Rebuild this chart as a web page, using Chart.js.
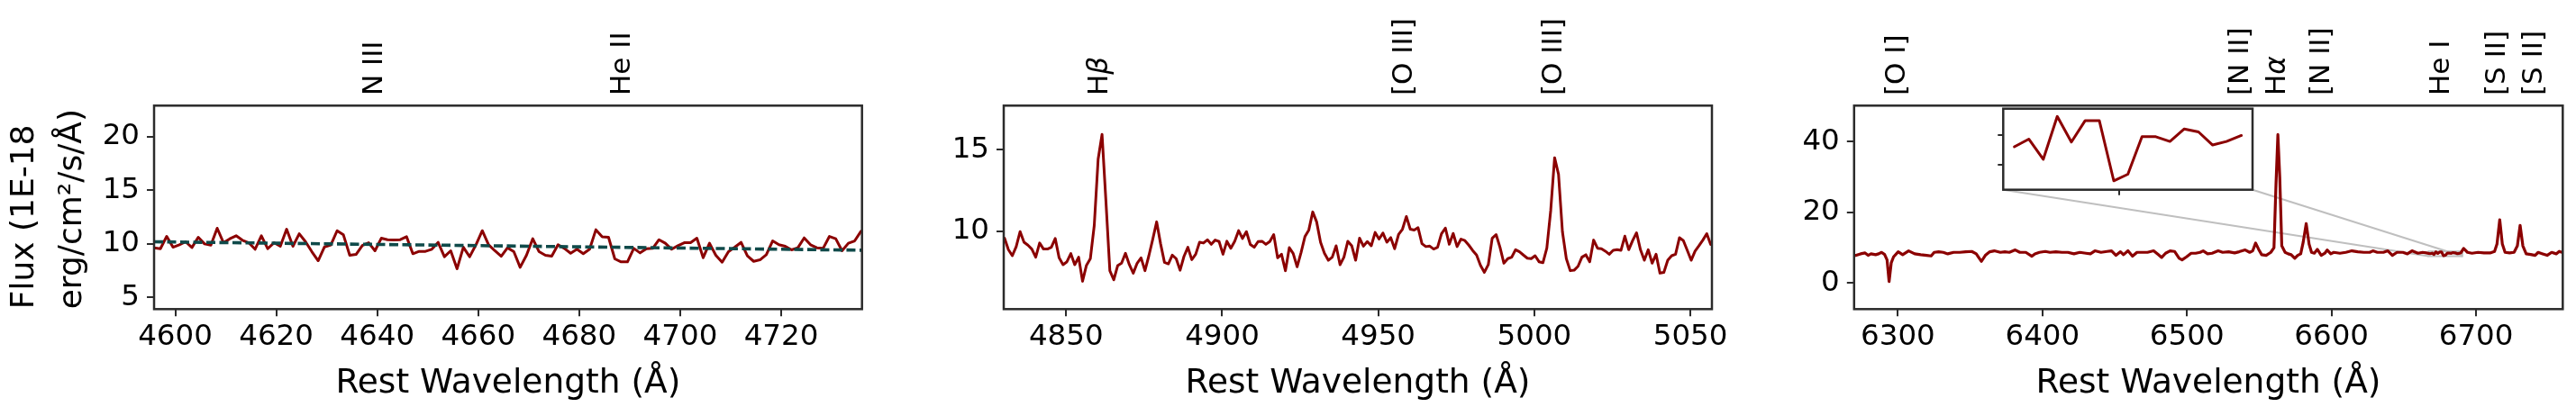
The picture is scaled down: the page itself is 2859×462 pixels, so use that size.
<!DOCTYPE html>
<html lang="en">
<head>
<meta charset="UTF-8">
<title>Rest-frame spectrum</title>
<script src="https://cdn.jsdelivr.net/npm/chart.js"></script>
<style>
  html, body { margin: 0; padding: 0; background: #fff; }
  body { width: 2859px; height: 462px; position: relative; overflow: hidden; }
  canvas { position: absolute; }
</style>
</head>
<body>
<canvas id="c1" width="1000" height="462" style="left:0;top:0"></canvas>
<canvas id="c2" width="950" height="462" style="left:1000px;top:0"></canvas>
<canvas id="c3" width="909" height="462" style="left:1950px;top:0"></canvas>
<canvas id="c4" width="320" height="125" style="left:2200px;top:100px"></canvas>

<script>
// ---- panel 1: N III / He II region (regular 1.25 A sampling) ----
const wave1Start = 4595.8;
const waveStep1 = 1.25;
const flux1 = [
  9.63, 9.54, 10.69, 9.68, 9.91, 10.19, 9.65, 10.61, 9.99, 9.88,
  11.45, 10.10, 10.47, 10.75, 10.33, 10.10, 9.49, 10.75, 9.54, 10.10,
  9.77, 11.36, 9.77, 10.94, 10.19, 9.26, 8.42, 9.71, 9.88, 11.22,
  10.83, 8.93, 9.01, 9.85, 10.10, 9.35, 10.52, 10.38, 10.36, 10.38,
  10.66, 9.07, 9.29, 9.29, 9.49, 10.13, 8.79, 9.35, 7.66, 9.68,
  8.79, 9.91, 11.22, 9.91, 9.35, 8.84, 9.63, 9.26,
  7.80, 8.93, 10.47, 9.26, 8.93, 8.84, 9.91, 9.57, 9.12, 9.49,
  9.07, 9.49, 11.31, 10.66, 10.61, 8.59, 8.31, 8.31, 9.57, 9.15,
  9.54, 9.57, 10.38, 10.05, 9.49, 9.82, 10.10, 10.10, 10.52, 8.70,
  10.05, 8.93, 8.28, 9.26, 9.68, 10.13, 8.87, 8.36, 8.50, 8.98,
  10.27, 9.91, 9.77, 9.43, 9.63, 10.55, 9.91, 9.63, 9.57, 10.69,
  10.47, 9.35, 10.05, 10.27, 11.17
];
const contWave1 = [4595.8, 4736.0];
const contFlux1 = [10.19, 9.40];
const xRange1 = [4595.8, 4736.0];
const yRange1 = [3.9, 22.9];
const xTicks1 = [4600, 4620, 4640, 4660, 4680, 4700, 4720];
const yTicks1 = [5, 10, 15, 20];
const lineNames1 = ['N III', 'He II'];
const lineWaves1 = [4639.5, 4688.5];

// ---- panel 2: Hbeta / [O III] region ----
const wave2Start = 4830.25;
const waveStep2 = 1.25;
const flux2 = [
  9.56, 8.85, 8.48, 9.04, 9.96, 9.31, 9.13, 8.89, 8.39, 9.26,
  8.89, 8.89, 9.00, 9.54, 8.35, 7.93, 8.11, 8.61, 7.93, 8.39,
  6.91, 7.89, 8.30, 10.33, 14.41, 15.93, 11.81, 7.56, 7.00, 7.87,
  8.02, 8.63, 7.93, 7.41, 8.02, 8.35, 7.56, 8.48, 9.50, 10.56,
  9.22, 8.07, 7.98, 8.52, 8.30, 7.59, 8.44, 9.00, 8.24, 8.57,
  9.31, 9.26, 9.46, 9.18, 9.44, 9.35, 8.57, 9.37, 8.94, 9.37,
  10.02, 9.54, 9.96, 9.17, 9.00, 9.35, 9.37, 9.18, 9.35, 9.78,
  8.35, 8.57, 7.56, 8.98, 8.61, 7.80, 8.67, 9.65, 10.06, 11.17,
  10.56, 9.31, 8.63, 8.20, 8.39, 9.09, 7.93, 8.39, 9.37, 9.09,
  8.20, 9.56, 9.07,
  9.35, 9.09, 9.91, 9.50, 9.87, 9.31, 9.59, 8.91, 9.78, 10.11,
  10.89, 10.11, 10.06, 10.20, 9.22, 9.04, 9.07, 8.89, 9.00, 9.83,
  10.18, 9.18, 9.85, 9.04, 9.50, 9.41, 9.13, 8.80, 8.52, 7.89,
  7.46, 7.93, 9.55, 9.78, 9.00, 8.02, 8.30, 8.39, 8.85, 8.72,
  8.52, 8.33, 8.30, 8.48, 8.11, 8.05, 8.94, 11.26, 14.50, 13.48,
  9.96, 8.30, 7.56, 7.59, 7.83, 8.39, 8.54, 8.11, 9.44, 8.94,
  8.91, 8.76, 8.57, 8.81, 8.85, 8.81, 9.68, 8.85, 9.41, 9.89,
  8.85, 8.20, 8.85, 8.02, 8.57, 7.41, 7.46, 8.20, 8.48, 8.57,
  9.59, 9.41, 8.81, 8.20, 8.76, 9.09, 9.44, 9.83, 9.17
];
const xRange2 = [4830.0, 5056.9];
const yRange2 = [5.2, 17.7];
const xTicks2 = [4850, 4900, 4950, 5000, 5050];
const yTicks2 = [10, 15];
const lineNames2 = ['H\u03b2', '[O III]', '[O III]'];
const lineWaves2 = [4861, 4958.5, 5006.5];

// ---- panel 3: [O I] to [S II] region ----
const wave3 = [
  6267.9, 6271.1, 6274.2, 6277.3, 6279.4, 6281.4, 6284.6, 6286.7, 6288.7, 6290.8,
  6292.5, 6293.9, 6295.4, 6297.0, 6300.2, 6303.3, 6307.4, 6311.6, 6315.8, 6319.9,
  6323.0, 6325.1, 6328.2, 6331.4, 6334.5, 6338.6, 6342.8, 6346.9, 6351.1, 6354.2,
  6356.3, 6357.8, 6360.5, 6363.6, 6366.7, 6370.9, 6374.0, 6377.1, 6381.2, 6384.4,
  6388.5, 6392.7, 6394.8, 6397.9, 6402.0, 6405.2, 6409.3, 6413.5, 6417.6, 6421.8,
  6425.9, 6430.1, 6433.2, 6436.3, 6440.5, 6444.7, 6447.8, 6450.9, 6454.0, 6456.1,
  6459.2, 6462.3, 6465.4, 6468.6, 6472.7, 6476.9, 6480.0, 6482.5, 6485.2, 6488.3,
  6491.4, 6494.6, 6496.6, 6499.7, 6502.9, 6506.0, 6509.1, 6511.2, 6514.3, 6517.4,
  6521.6, 6524.7, 6528.8, 6533.0, 6536.1, 6540.3, 6543.4, 6545.5, 6547.5, 6549.6,
  6551.7, 6554.8, 6558.0, 6560.2, 6561.6, 6562.9, 6564.2, 6565.6, 6567.9, 6570.0,
  6572.1, 6574.6, 6576.6, 6578.7, 6580.4, 6582.5, 6584.5, 6586.2, 6588.1, 6590.2,
  6592.9, 6595.4, 6597.0, 6599.5, 6601.6, 6605.8, 6609.9, 6614.1, 6618.2, 6622.4,
  6626.5, 6628.6, 6631.7, 6635.9, 6639.0, 6642.1, 6645.3, 6649.4, 6652.5, 6655.7,
  6659.8, 6663.0, 6665.6,
  6668.24, 6669.59, 6670.94, 6672.25, 6673.57, 6674.86, 6676.18, 6677.53, 6678.85, 6680.17,
  6681.46, 6682.78, 6684.12, 6685.45, 6686.77, 6688.06, 6689.46,
  6691.4, 6694.1, 6697.2, 6701.4, 6705.5, 6709.7, 6712.8, 6714.5, 6716.4, 6718.2,
  6720.1, 6723.2, 6726.3, 6728.6, 6730.5, 6732.4, 6734.7, 6737.8, 6740.9, 6743.0,
  6746.1, 6749.2, 6752.3, 6755.5, 6757.5, 6760.0
];
const flux3 = [
  7.82, 7.82, 8.25, 8.50, 7.82, 8.25, 8.00, 8.25, 8.67, 8.08,
  6.55, 0.40, 5.70, 7.40, 8.84, 8.00, 9.10, 8.25, 8.00, 7.82,
  7.65, 8.67, 8.84, 8.67, 8.25, 8.67, 8.67, 8.84, 8.93, 8.25,
  6.97, 6.12, 7.82, 8.84, 9.10, 8.67, 8.84, 8.67, 9.35, 8.67,
  8.67, 7.57, 8.25, 8.67, 8.93, 8.67, 8.84, 8.67, 8.67, 8.25,
  8.67, 8.42, 8.25, 9.10, 8.67, 8.93, 9.10, 7.82, 8.84, 8.00,
  9.10, 7.57, 8.67, 8.67, 8.67, 9.10, 8.08, 7.23, 8.42, 9.10,
  8.93, 6.97, 6.55, 7.40, 8.42, 8.42, 8.67, 9.10, 8.25, 8.42,
  9.10, 8.67, 8.84, 8.50, 8.84, 9.35, 8.67, 9.10, 11.30, 9.52,
  8.00, 7.82, 8.67, 10.0, 28.0, 42.0, 30.0, 10.5, 8.67, 8.25,
  8.00, 6.97, 7.82, 8.25, 11.5, 16.8, 11.0, 8.67, 8.42, 9.52,
  7.82, 8.42, 9.35, 8.25, 8.67, 8.42, 8.67, 9.10, 8.84, 8.67,
  8.67, 9.10, 8.67, 8.67, 9.10, 7.82, 8.67, 8.67, 8.25, 9.10,
  8.42, 8.67, 8.50,
  8.30, 8.43, 8.09, 8.81, 8.38, 8.74, 8.74, 7.73, 7.84, 8.47,
  8.47, 8.39, 8.60, 8.55, 8.33, 8.39, 8.49,
  9.78, 8.67, 8.42, 8.67, 8.50, 8.50, 8.93, 11.0, 17.9, 11.0,
  8.67, 8.50, 8.67, 10.5, 16.3, 10.5, 8.25, 8.08, 7.82, 8.67,
  8.25, 7.82, 8.67, 8.25, 8.93, 8.60
];
const xRange3 = [6269.7, 6760.0];
const yRange3 = [-7.4, 50.2];
const xTicks3 = [6300, 6400, 6500, 6600, 6700];
const yTicks3 = [0, 20, 40];
const lineNames3 = ['[O I]', '[N II]', 'H\u03b1', '[N II]', 'He I', '[S II]', '[S II]'];
const lineWaves3 = [6300, 6537, 6562.5, 6593.5, 6676.5, 6715, 6740.7];

// ---- inset: zoom on He I 6678 ----
const insetXRange = [6667.2, 6690.5];
const insetYRange = [7.58, 8.94];
const insetXTicks = [6678];
const insetYTicks = [8.0, 8.5];

// ---- styling ----
const FONT = '"DejaVu Sans", sans-serif';
const INK = '#000000';
const FRAME = '#2b2b2b';
const RED = '#8b0000';
const CONT = '#0f4a4a';
const LABEL_BASE = 106;
const TICK_PX = 32.5;
const LABEL_PX = 37.5;
const NAME_PX = 31;

function points(xs, ys) {
  return ys.map((v, i) => ({ x: xs[i], y: v }));
}

// regular wavelength grids of panels 1 and 2
const wave1 = flux1.map((_, i) => wave1Start + i * waveStep1);
const wave2 = flux2.map((_, i) => wave2Start + i * waveStep2);

// the inset only carries the samples inside its own window
const insetIdx = wave3.map((w, i) => i).filter(i => wave3[i] >= insetXRange[0] && wave3[i] <= insetXRange[1]);
const insetWave = insetIdx.map(i => wave3[i]);
const insetFlux = insetIdx.map(i => flux3[i]);

const framePlugin = {
  id: 'frame',
  beforeDatasetsDraw(chart) {
    const { ctx, chartArea: a } = chart;
    if (chart.options.plugins.frame && chart.options.plugins.frame.fill) {
      ctx.save();
      ctx.fillStyle = '#ffffff';
      ctx.fillRect(a.left, a.top, a.right - a.left, a.bottom - a.top);
      ctx.restore();
    }
  },
  afterDatasetsDraw(chart) {
    const { ctx, chartArea: a } = chart;
    ctx.save();
    ctx.strokeStyle = FRAME;
    ctx.lineWidth = 2.5;
    ctx.strokeRect(a.left, a.top, a.right - a.left, a.bottom - a.top);
    ctx.restore();
  }
};

// rotated emission line names above each panel
const lineLabelPlugin = {
  id: 'lineLabels',
  afterDraw(chart, args, opts) {
    if (!opts.names) return;
    const { ctx } = chart;
    const xs = chart.scales.x;
    ctx.save();
    ctx.fillStyle = INK;
    ctx.textBaseline = 'middle';
    ctx.textAlign = 'left';
    opts.names.forEach((name, i) => {
      const px = xs.getPixelForValue(opts.waves[i]);
      ctx.save();
      ctx.translate(px, LABEL_BASE);
      ctx.rotate(-Math.PI / 2);
      const m = name.match(/^(.*?)([\u03b1\u03b2]?)$/);
      ctx.font = NAME_PX + 'px ' + FONT;
      ctx.fillText(m[1], 0, 0);
      if (m[2]) {
        const w = ctx.measureText(m[1]).width;
        ctx.font = 'italic ' + NAME_PX + 'px ' + FONT;
        ctx.fillText(m[2], w, 0);
      }
      ctx.restore();
    });
    ctx.restore();
  }
};

let insetChart = null;

// box on the main panel plus connectors to the inset's lower corners
const insetMarkPlugin = {
  id: 'insetMark',
  beforeDatasetsDraw(chart) {
    if (!insetChart) return;
    const { ctx } = chart;
    const { x, y } = chart.scales;
    const x0 = x.getPixelForValue(insetXRange[0]);
    const x1 = x.getPixelForValue(insetXRange[1]);
    const y0 = y.getPixelForValue(insetYRange[0]);
    const y1 = y.getPixelForValue(insetYRange[1]);
    const ia = insetChart.chartArea;
    const dx = 2200 - 1950, dy = 100;
    ctx.save();
    ctx.strokeStyle = '#bfbfbf';
    ctx.lineWidth = 2;
    ctx.strokeRect(x0, y1, x1 - x0, y0 - y1);
    ctx.beginPath();
    ctx.moveTo(ia.left + dx, ia.bottom + dy);
    ctx.lineTo(x0, y0);
    ctx.moveTo(ia.right + dx, ia.bottom + dy);
    ctx.lineTo(x1, y0);
    ctx.stroke();
    ctx.restore();
  }
};

function tickGrid(len) {
  return { drawOnChartArea: false, drawTicks: true, tickLength: len, color: FRAME, lineWidth: 2 };
}

function xAxis(range, ticks, height, showLabels) {
  return {
    type: 'linear', min: range[0], max: range[1],
    afterBuildTicks: s => { s.ticks = ticks.map(v => ({ value: v })); },
    afterFit: s => { s.height = height; },
    grid: tickGrid(showLabels ? 8 : 6),
    border: { display: false },
    ticks: {
      display: showLabels, font: { family: FONT, size: TICK_PX }, color: INK,
      padding: 4, maxRotation: 0, autoSkip: false, callback: v => String(v)
    },
    title: {
      display: showLabels, text: 'Rest Wavelength (\u00c5)',
      font: { family: FONT, size: LABEL_PX }, color: INK, padding: { top: 0, bottom: 13 }
    }
  };
}

function yAxis(range, ticks, width, showLabels, title) {
  const axis = {
    type: 'linear', min: range[0], max: range[1],
    afterBuildTicks: s => { s.ticks = ticks.map(v => ({ value: v })); },
    afterFit: s => { s.width = width; },
    grid: tickGrid(showLabels ? 8 : 6),
    border: { display: false },
    ticks: {
      display: showLabels, font: { family: FONT, size: TICK_PX }, color: INK,
      padding: 8, autoSkip: false, callback: v => String(v)
    }
  };
  if (title) {
    axis.title = {
      display: true, text: title, align: 'start', color: INK,
      font: { family: FONT, size: 36, lineHeight: 1.45 }, padding: { top: 2, bottom: 0 }
    };
  }
  return axis;
}

function lineSet(xs, ys, color, width, dash) {
  return {
    data: points(xs, ys), borderColor: color, borderWidth: width,
    borderDash: dash || [], pointRadius: 0, tension: 0, fill: false,
    borderJoinStyle: 'round', borderCapStyle: dash ? 'butt' : 'round'
  };
}

function panel(id, datasets, xs, ys, pad, labels, extraPlugins) {
  return new Chart(document.getElementById(id), {
    type: 'line',
    data: { datasets: datasets },
    options: {
      responsive: false, animation: false,
      layout: { padding: pad },
      plugins: {
        legend: { display: false }, tooltip: { enabled: false },
        lineLabels: labels, frame: {}
      },
      scales: { x: xs, y: ys }
    },
    plugins: [framePlugin, lineLabelPlugin].concat(extraPlugins || [])
  });
}

// panel 1
panel('c1',
  [lineSet(contWave1, contFlux1, CONT, 3.6, [10, 4.5]), lineSet(wave1, flux1, RED, 3)],
  xAxis(xRange1, xTicks1, 118.7, true),
  yAxis(yRange1, yTicks1, 171, true, ['Flux (1E-18', 'erg/cm\u00b2/s/\u00c5)']),
  { left: 0, right: 43.3, top: 117.3, bottom: 0 },
  { names: lineNames1, waves: lineWaves1 });

// panel 2
panel('c2',
  [lineSet(wave2, flux2, RED, 3)],
  xAxis(xRange2, xTicks2, 118.7, true),
  yAxis(yRange2, yTicks2, 114, true, null),
  { left: 0, right: 50, top: 117.3, bottom: 0 },
  { names: lineNames2, waves: lineWaves2 });

// inset (drawn first so the main panel can join its corners)
insetChart = new Chart(document.getElementById('c4'), {
  type: 'line',
  data: { datasets: [lineSet(insetWave, insetFlux, RED, 3)] },
  options: {
    responsive: false, animation: false,
    layout: { padding: { left: 0, right: 20, top: 20.7, bottom: 0 } },
    plugins: { legend: { display: false }, tooltip: { enabled: false }, frame: { fill: true } },
    scales: {
      x: xAxis(insetXRange, insetXTicks, 14.3, false),
      y: yAxis(insetYRange, insetYTicks, 23.3, false, null)
    }
  },
  plugins: [framePlugin]
});

// panel 3
panel('c3',
  [lineSet(wave3, flux3, RED, 3.2)],
  xAxis(xRange3, xTicks3, 118.7, true),
  yAxis(yRange3, yTicks3, 107.8, true, null),
  { left: 0, right: 14.7, top: 117.3, bottom: 0 },
  { names: lineNames3, waves: lineWaves3 },
  [insetMarkPlugin]);
</script>
</body>
</html>
